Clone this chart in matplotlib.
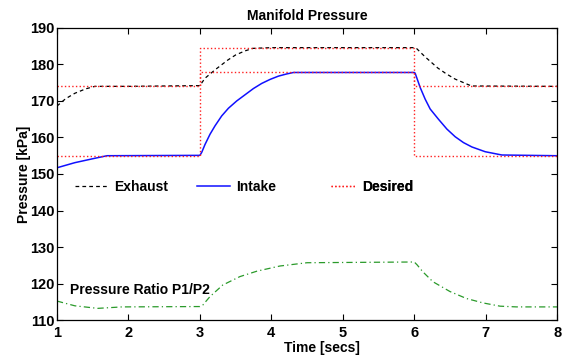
import matplotlib
matplotlib.use("Agg")
import matplotlib.pyplot as plt

# ── Data ──────────────────────────────────────────────────────────────────────

# Exhaust manifold pressure [kPa]
exh_t = [1.0, 1.12, 1.25, 1.4, 1.53, 2.0, 3.0, 3.07, 3.21, 3.39, 3.5, 3.63,
         3.74, 4.0, 6.0, 6.03, 6.15, 6.33, 6.45, 6.57, 6.8, 8.0]
exh_p = [168.6, 170.6, 172.1, 173.3, 174.0, 174.0, 174.2, 176.2, 178.5, 181.2,
         182.6, 183.7, 184.4, 184.6, 184.6, 184.4, 182.1, 179.0, 177.4, 176.0,
         174.1, 174.0]

# Intake manifold pressure [kPa]
int_t = [1.0, 1.25, 1.53, 1.7, 3.0, 3.025, 3.072, 3.142, 3.212, 3.305, 3.399,
         3.515, 3.632, 3.749, 3.865, 3.982, 4.099, 4.215, 4.31, 6.0, 6.012,
         6.082, 6.152, 6.222, 6.338, 6.456, 6.572, 6.688, 6.806, 6.992, 7.225,
         8.0]
int_p = [151.7, 153.1, 154.3, 155.0, 155.1, 155.9, 158.1, 160.9, 163.2, 165.9,
         168.0, 170.0, 171.7, 173.4, 174.8, 175.9, 176.8, 177.4, 177.8, 177.8,
         177.6, 173.7, 170.5, 167.8, 165.0, 162.3, 160.2, 158.6, 157.4, 156.1,
         155.2, 155.0]

# Desired set points (step changes)
des_t = [1.0, 3.0, 6.0, 8.0]
des_exh = [174.0, 184.6, 174.0, 174.0]
des_int = [155.0, 177.8, 155.0, 155.0]

# Pressure ratio P1/P2 (plotted on the same axis)
ratio_t = [1.0, 1.25, 1.57, 1.91, 3.0, 3.04, 3.14, 3.32, 3.56, 3.8, 4.12, 4.5,
           6.0, 6.04, 6.12, 6.26, 6.5, 6.73, 6.96, 7.2, 7.43, 8.0]
ratio_p = [115.2, 113.9, 113.2, 113.6, 113.7, 114.1, 116.4, 119.6, 121.9, 123.4,
           124.8, 125.7, 125.9, 125.1, 123.2, 120.5, 117.8, 115.9, 114.7, 113.8,
           113.6, 113.6]

X_TICKS = [1, 2, 3, 4, 5, 6, 7, 8]
Y_TICKS = [110, 120, 130, 140, 150, 160, 170, 180, 190]

# ── Plot ──────────────────────────────────────────────────────────────────────

plt.rcParams["font.family"] = ["Liberation Sans", "DejaVu Sans"]
plt.rcParams["font.weight"] = "bold"

fig = plt.figure(figsize=(5.64, 3.58), dpi=100)
ax = fig.add_axes([0.101, 0.106, 0.887, 0.816])

l_exh, = ax.plot(exh_t, exh_p, color="black", ls=(0, (3, 2.5)), lw=0.9)
l_int, = ax.plot(int_t, int_p, color="#1010ff", ls="-", lw=1.1)
l_des, = ax.plot(des_t, des_exh, color="#ff2020", ls=":", lw=1.0,
                 drawstyle="steps-post")
ax.plot(des_t, des_int, color="#ff2020", ls=":", lw=1.0, drawstyle="steps-post")
ax.plot(ratio_t, ratio_p, color="#2a9a2a", ls=(0, (5, 2.5, 1, 2.5)), lw=0.9)

ax.text(1.18, 118.3, "Pressure Ratio P1/P2", fontsize=10, fontweight="bold",
        va="center", ha="left")

# legend entries laid out in a row like the original
for handle, label, x0, hl in [(l_exh, "Exhaust", 0.036, 2.4),
                              (l_int, "Intake", 0.280, 2.4),
                              (l_des, "Desired", 0.548, 1.8)]:
    leg = ax.legend([handle], [label], loc="center left",
                    bbox_to_anchor=(x0, 0.455), frameon=False,
                    borderpad=0, borderaxespad=0, handlelength=hl,
                    handletextpad=0.4, prop={"size": 10, "weight": "bold"})
    ax.add_artist(leg)

ax.set_xlim(1, 8)
ax.set_ylim(110, 190)
ax.set_xticks(X_TICKS)
ax.set_yticks(Y_TICKS)
ax.tick_params(direction="in", top=True, right=True, length=4, width=0.8,
               labelsize=10.5)
ax.tick_params(axis="x", pad=4)
ax.tick_params(axis="y", pad=2)
for lab in ax.get_xticklabels() + ax.get_yticklabels():
    lab.set_fontweight("bold")
for sp in ax.spines.values():
    sp.set_linewidth(0.9)

ax.set_title("Manifold Pressure", fontsize=10, fontweight="bold", pad=6)
ax.set_xlabel("Time [secs]", fontsize=10, fontweight="bold")
ax.xaxis.set_label_coords(0.53, -0.072)
ax.set_ylabel("Pressure [kPa]", fontsize=10, fontweight="bold", labelpad=-1)

fig.savefig("out.png", dpi=100)
